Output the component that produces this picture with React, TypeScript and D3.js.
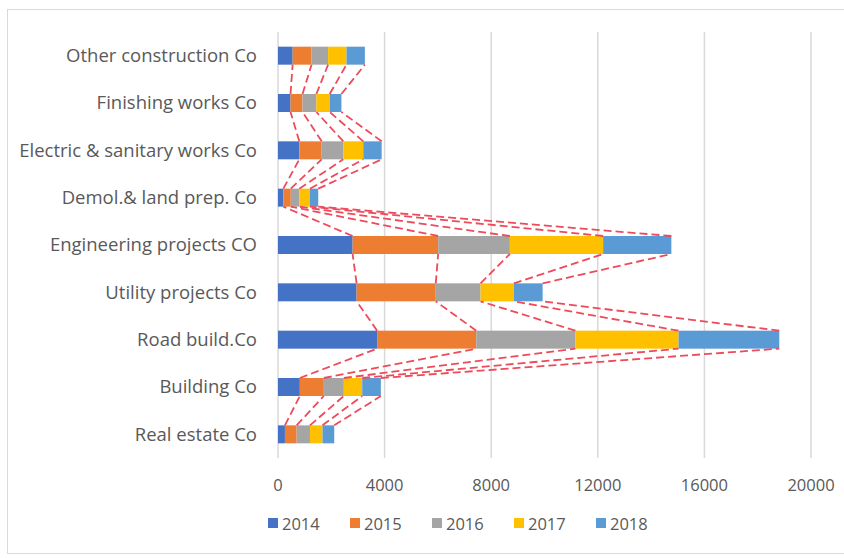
import React from 'react';
import * as d3 from 'd3';

// categories listed bottom -> top as in the picture
const categories = [
  'Real estate Co',
  'Building Co',
  'Road build.Co',
  'Utility projects Co',
  'Engineering projects CO',
  'Demol.& land prep. Co',
  'Electric & sanitary works Co',
  'Finishing works Co',
  'Other construction Co',
];

const years = ['2014', '2015', '2016', '2017', '2018'];

const v2014 = [260, 820, 3720, 2950, 2800, 200, 800, 470, 550];
const v2015 = [440, 900, 3720, 2970, 3210, 280, 840, 450, 710];
const v2016 = [500, 750, 3720, 1680, 2690, 320, 810, 520, 620];
const v2017 = [470, 690, 3870, 1250, 3500, 400, 750, 500, 690];
const v2018 = [440, 700, 3780, 1080, 2560, 310, 690, 440, 690];

const xTicks = [0, 4000, 8000, 12000, 16000, 20000];
const colors = ['#4472C4', '#ED7D31', '#A5A5A5', '#FFC000', '#5B9BD5'];

const W = 844;
const H = 558;
const margin = { top: 32, right: 33, bottom: 100, left: 278 };
const font = '"Open Sans", sans-serif';

export default function App() {
  const rows = categories.map((c, i) => {
    const r: any = { category: c };
    [v2014, v2015, v2016, v2017, v2018].forEach((arr, k) => (r[years[k]] = arr[i]));
    return r;
  });
  const stacked = d3.stack().keys(years)(rows);

  const x = d3.scaleLinear().domain([0, 20000]).range([margin.left, W - margin.right]);
  const y = d3
    .scaleBand()
    .domain([...categories].reverse())
    .range([margin.top, H - margin.bottom])
    .paddingInner(0.62)
    .paddingOuter(0.31);

  const bh = y.bandwidth();

  // series lines: connect each segment end on one bar to the same series on the next bar up
  const seriesLines: any[] = [];
  stacked.forEach((s, k) => {
    for (let i = 0; i < categories.length - 1; i++) {
      const lower = s[i];
      const upper = s[i + 1];
      seriesLines.push({
        key: `${k}-${i}`,
        x1: x(lower[1]),
        y1: (y(categories[i]) as number),
        x2: x(upper[1]),
        y2: (y(categories[i + 1]) as number) + bh,
      });
    }
  });

  const legendX = [268, 350, 432, 514, 596];

  return (
    <svg width={W} height={H} style={{ position: 'absolute', left: 0, top: 0, background: '#fff' }}>
      <rect x={7.5} y={9.5} width={W} height={H - 14} fill="#fff" stroke="#d9d9d9" />
      {xTicks.map(t => (
        <line key={t} x1={x(t)} x2={x(t)} y1={margin.top} y2={H - margin.bottom} stroke="#d9d9d9" strokeWidth={1.5} />
      ))}
      {stacked.map((s, k) => (
        <g key={s.key} fill={colors[k]}>
          {s.map((d, i) => (
            <rect
              key={i}
              x={x(d[0])}
              y={y(categories[i])}
              width={x(d[1]) - x(d[0])}
              height={bh}
            />
          ))}
        </g>
      ))}
      {seriesLines.map(l => (
        <line
          key={l.key}
          x1={l.x1}
          y1={l.y1}
          x2={l.x2}
          y2={l.y2}
          stroke="#ee4a5a"
          strokeWidth={1.8}
          strokeDasharray="8,4"
        />
      ))}
      {categories.map(c => (
        <text
          key={c}
          x={margin.left - 21}
          y={(y(c) as number) + bh / 2}
          dy="0.35em"
          textAnchor="end"
          fontFamily={font}
          fontSize={18.5}
          fill="#595959"
        >
          {c}
        </text>
      ))}
      {xTicks.map(t => (
        <text
          key={t}
          x={x(t)}
          y={H - margin.bottom + 33}
          textAnchor="middle"
          fontFamily={font}
          fontSize={16.5}
          fill="#595959"
        >
          {t}
        </text>
      ))}
      {years.map((yr, k) => (
        <g key={yr} transform={`translate(${legendX[k]},${H - 34})`}>
          <rect x={0} y={-6} width={10} height={10} fill={colors[k]} />
          <text x={14} y={0} dy="0.35em" fontFamily={font} fontSize={16.5} fill="#595959">
            {yr}
          </text>
        </g>
      ))}
    </svg>
  );
}
